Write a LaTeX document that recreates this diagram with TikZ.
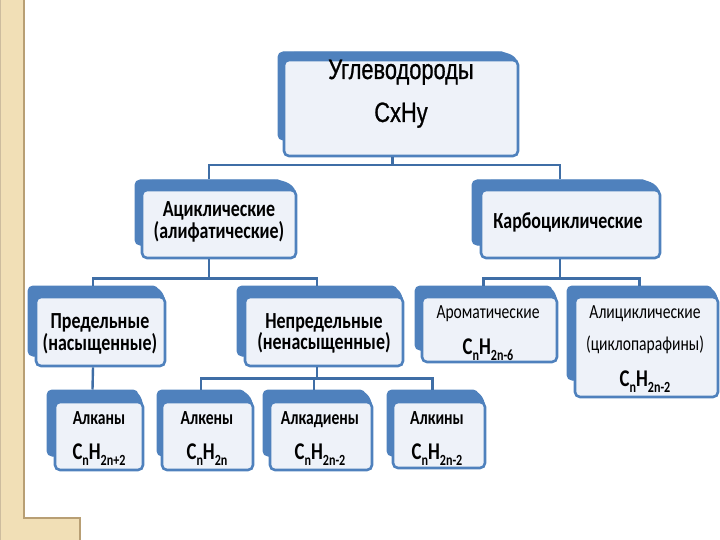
\documentclass[tikz,border=0pt]{standalone}
\usepackage{fontspec}
\setmainfont{Carlito}
\newfontfamily\condf[FakeStretch=0.78]{Carlito}
\newfontfamily\arialf[FakeStretch=0.78,FakeBold=0.8]{Liberation Sans}
\usetikzlibrary{fit}
\definecolor{bblue}{HTML}{4F81BD}
\definecolor{cblue}{HTML}{3F6EA6}
\definecolor{bfill}{HTML}{EEF2F9}
\definecolor{beige}{HTML}{F1DFB6}
\definecolor{beigeline}{HTML}{B89F74}
\newcommand{\fsub}[1]{\raisebox{-0.55ex}{\fontsize{15.5}{15.5}\selectfont #1}}
\newcommand{\fml}[2]{C\fsub{#1}H\fsub{#2}}
% name, back x1 y1 x2 y2, front x1 y1 x2 y2
\newcommand{\pairbox}[9]{%
  \node[backbox, fit={(#2,#3)(#4,#5)}] (#1b) {};
  \fill[bblue] (#4-8,#3) to[out=0,in=90] (#8,#7+5) -- (#6+10,#7+5) -- (#6+10,#3) -- cycle;
  \node[frontbox, fit={(#6,#7)(#8,#9)}] (#1) {};}
\begin{document}
\begin{tikzpicture}[x=1pt,y=-1pt,
  backbox/.style={fill=bblue, draw=bblue, line width=1pt, rounded corners=5pt, inner sep=0pt},
  frontbox/.style={fill=bfill, draw=bblue, line width=2.6pt, rounded corners=5pt, inner sep=0pt},
  conn/.style={draw=cblue, line width=2.4pt},
  toptxt/.style={font=\arialf\fontsize{28}{28}\selectfont, inner sep=0pt, anchor=base, text=black},
  lblA/.style={font=\condf\fontsize{23}{23}\selectfont\bfseries, inner sep=0pt, anchor=base},
  lblB/.style={font=\condf\fontsize{20}{20}\selectfont, inner sep=0pt, anchor=base},
  lblC/.style={font=\condf\fontsize{20}{20}\selectfont\bfseries, inner sep=0pt, anchor=base},
  fmlt/.style={font=\condf\fontsize{24}{24}\selectfont\bfseries, inner sep=0pt, anchor=base}
]
\useasboundingbox (0,0) rectangle (720,540);
% beige frame
\fill[beige] (0,0) rectangle (24,540);
\fill[beige] (24,518) rectangle (80,540);
\draw[beigeline, line width=1.2pt] (24,0) -- (24,518) -- (80,518) -- (80,540);
\draw[beigeline!70, line width=0.8pt] (0.5,0) -- (0.5,540);

% boxes
\pairbox{top}{278}{52}{507}{140}{284}{60}{518}{156}
\node[toptxt] (topt1) at (401,79) {Углеводороды};
\node[toptxt] (topt2) at (401,122) {CxHy};

\pairbox{acyc}{135}{180}{283}{245}{142}{190}{296}{258}
\node[lblA] (acyct1) at (219,217) {Ациклические};
\node[lblA] (acyct2) at (219,238) {(алифатические)};

\pairbox{carb}{472}{180}{648}{245}{481}{190}{660}{258}
\node[lblA] (carbt) at (568,229) {Карбоциклические};

\pairbox{sat}{28}{286}{158}{356}{36}{297}{165}{366}
\node[lblA] (satt1) at (100,328) {Предельные};
\node[lblA] (satt2) at (100,350) {(насыщенные)};

\pairbox{uns}{237}{286}{397}{356}{245}{297}{403}{366}
\node[lblA] (unst1) at (324,328) {Непредельные};
\node[lblA] (unst2) at (324,349) {(ненасыщенные)};

\pairbox{arom}{415}{286}{552}{350}{422}{297}{557}{362}
\node[lblB] (aromt) at (488,318) {Ароматические};
\node[fmlt] (aromf) at (488,354) {\fml{n}{2n-6}};

\pairbox{alic}{567}{286}{712}{380}{575}{297}{718}{397}
\node[lblB] (alict1) at (645,318) {Алициклические};
\node[lblB] (alict2) at (645,350) {(циклопарафины)};
\node[fmlt] (alicf) at (645,386) {\fml{n}{2n-2}};

\pairbox{alkan}{47}{390}{138}{456}{55}{402}{143}{470}
\node[lblC] (alkant) at (99,424) {Алканы};
\node[fmlt] (alkanf) at (99,459) {\fml{n}{2n+2}};

\pairbox{alken}{157}{390}{245}{456}{162}{402}{253}{470}
\node[lblC] (alkent) at (207,424) {Алкены};
\node[fmlt] (alkenf) at (207,459) {\fml{n}{2n}};

\pairbox{dien}{263}{390}{365}{456}{270}{402}{372}{470}
\node[lblC] (dient) at (320,424) {Алкадиены};
\node[fmlt] (dienf) at (320,459) {\fml{n}{2n-2}};

\pairbox{alkin}{387}{390}{478}{456}{393}{402}{485}{468}
\node[lblC] (alkint) at (437,424) {Алкины};
\node[fmlt] (alkinf) at (437,459) {\fml{n}{2n-2}};

% connectors
\draw[conn] (topb |- top.south) -- ++(0,8) coordinate (c1) -| (acycb.north);
\draw[conn] (c1) -| (carbb.north);
\draw[conn] (acycb |- acyc.south) -- ++(0,19) coordinate (c2) -| (satb.north);
\draw[conn] (c2) -| (unsb.north);
\draw[conn] (carbb |- carb.south) -- ++(0,19) coordinate (c3) -| (aromb.north);
\draw[conn] (c3) -| (alicb.north);
\draw[conn] (satb |- sat.south) -- (alkanb.north);
\draw[conn] (unsb |- uns.south) -- ++(0,11) coordinate (c4) -| (alkenb.north);
\draw[conn] (c4) -| (dienb.north);
\draw[conn] (c4) -| (alkinb.north);
\end{tikzpicture}
\end{document}
